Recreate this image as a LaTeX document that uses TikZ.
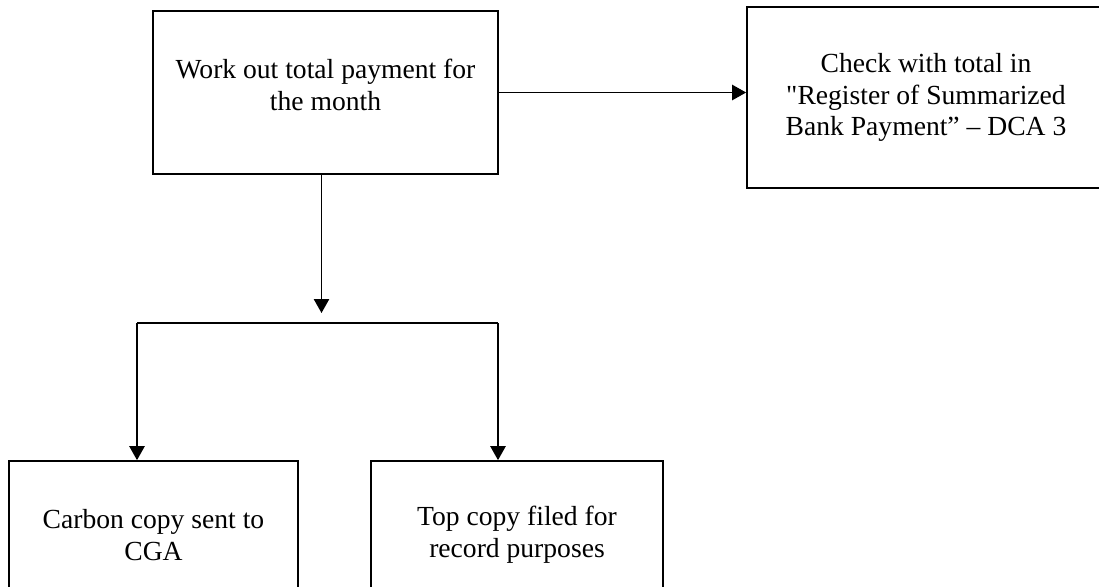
\documentclass[tikz,border=0pt]{standalone}
\usepackage{fontspec}
\setmainfont{Liberation Serif}[Ligatures=TeXOff]
\usetikzlibrary{arrows.meta}

\tikzset{
  box/.style={draw=black, line width=1.3pt, rectangle, inner sep=0pt},
  txt/.style={align=center, inner sep=0pt,
    font=\fontsize{20.7pt}{23.8pt}\selectfont},
  arr/.style={draw=black, line width=1.1pt, -{Triangle[length=10.5pt,width=11.5pt]}},
  link/.style={draw=black, line width=1.1pt}
}

\begin{document}
\begin{tikzpicture}[x=0.75pt, y=-0.75pt]
  \useasboundingbox (0,0) rectangle (1099,586);
  \fill[white] (0,0) rectangle (1099,586);
  \clip (0,0) rectangle (1099,586);

  % process boxes
  \node[box, minimum width=258.75pt, minimum height=122.25pt] (b1) at (325.5,92.5) {};
  \node[txt] (t1) at (325.5,85) {Work out total payment for\\the month};

  \node[box, txt, minimum width=268.5pt, minimum height=135.75pt] (b2) at (926,97.5)
    {Check with total in\\"Register of Summarized\\Bank Payment” – DCA 3};

  \node[box, txt, minimum width=216.75pt, minimum height=111pt] (b3) at (153.5,535)
    {Carbon copy sent to\\CGA};

  \node[box, txt, minimum width=219pt, minimum height=111pt] (b4) at (517,535)
    {Top copy filed for\\record purposes};

  % branch points
  \coordinate (j)  at (321.5,313);
  \coordinate (fl) at (137,323);
  \coordinate (fr) at (498,323);

  % connectors
  \draw[arr] (b1.east) -- (b1.east -| b2.west);
  \draw[arr] (b1.south -| j) -- (j);
  \draw[link] (fl) -- (fr);
  \draw[arr] (fl) -- (fl |- b3.north);
  \draw[arr] (fr) -- (fr |- b4.north);
\end{tikzpicture}
\end{document}
